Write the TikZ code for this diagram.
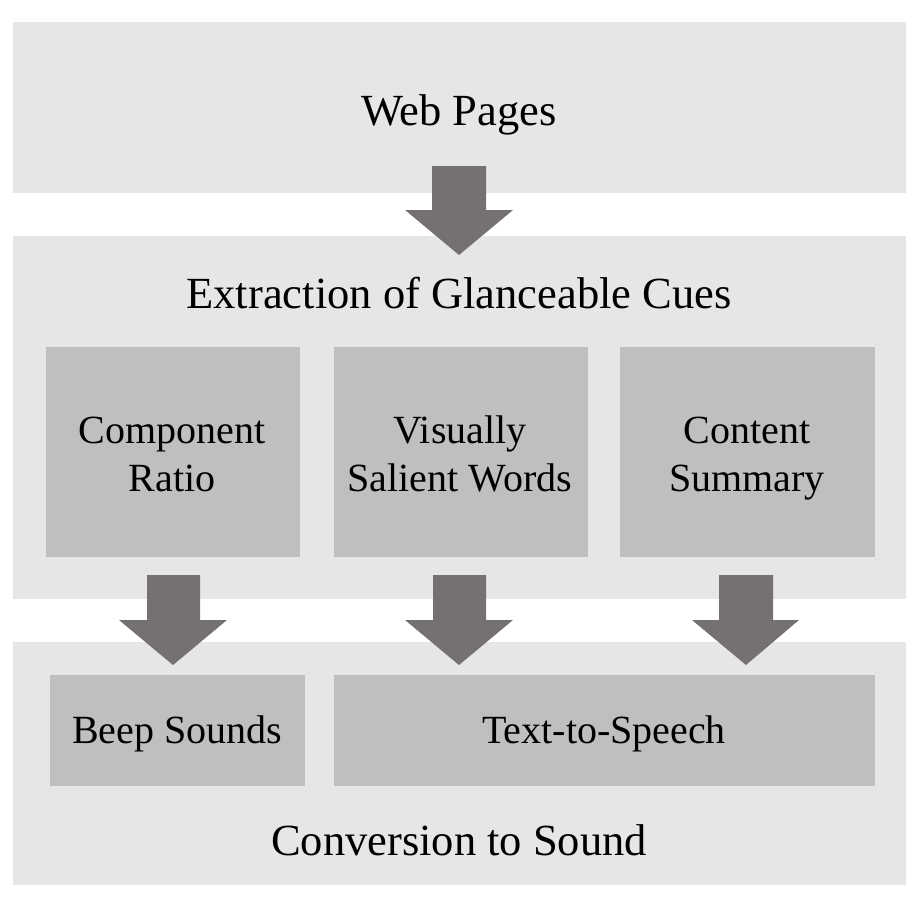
\documentclass[tikz,border=0pt]{standalone}
\usepackage{fontspec}
\setmainfont{Liberation Serif}
\definecolor{outerfill}{HTML}{E7E6E6}
\definecolor{innerfill}{HTML}{BFBFBF}
\definecolor{arrowfill}{HTML}{767171}
\begin{document}
\begin{tikzpicture}[x=1pt,y=-1pt,
  outerbox/.style={fill=outerfill,draw=none},
  innerbox/.style={fill=innerfill,draw=none},
  blockarrow/.style={fill=arrowfill,draw=none},
  bigtext/.style={font=\fontsize{44.5}{50}\selectfont,inner sep=0pt,anchor=base},
  smalltext/.style={font=\fontsize{40}{48}\selectfont,inner sep=0pt,align=center},
  onetext/.style={font=\fontsize{40}{48}\selectfont,inner sep=0pt,anchor=base}]
\useasboundingbox (0,0) rectangle (918,902);
\fill[white] (0,0) rectangle (918,902);
% outer boxes
\fill[outerbox] (13,22) rectangle (906,193);
\fill[outerbox] (13,236) rectangle (906,599);
\fill[outerbox] (13,642) rectangle (906,885);
% inner boxes
\fill[innerbox] (46,347) rectangle (300,557);
\fill[innerbox] (334,347) rectangle (588,557);
\fill[innerbox] (620,347) rectangle (875,557);
\fill[innerbox] (50,675) rectangle (305,786);
\fill[innerbox] (334,675) rectangle (875,786);
% arrows
\fill[blockarrow] (432,166) -- (486,166) -- (486,210) -- (513,210) -- (459,255) -- (405,210) -- (432,210) -- cycle;
\fill[blockarrow] (147,575) -- (200,575) -- (200,620) -- (227,620) -- (173,665) -- (119,620) -- (147,620) -- cycle;
\fill[blockarrow] (433,575) -- (486,575) -- (486,620) -- (513,620) -- (459,665) -- (405,620) -- (433,620) -- cycle;
\fill[blockarrow] (719,575) -- (773,575) -- (773,620) -- (799,620) -- (746,665) -- (692,620) -- (719,620) -- cycle;
% texts
\node[bigtext] (web) at (459,125) {Web Pages};
\node[bigtext] (extr) at (459,308) {Extraction of Glanceable Cues};
\node[smalltext] (comp) at (172,458) {Component\strut\\Ratio\strut};
\node[smalltext] (vis) at (460,458) {Visually\strut\\Salient Words\strut};
\node[smalltext] (cont) at (747,458) {Content\strut\\Summary\strut};
\node[onetext] (beep) at (177,743) {Beep Sounds};
\node[onetext] (tts) at (604,743) {Text-to-Speech};
\node[bigtext] (conv) at (459,855) {Conversion to Sound};
\end{tikzpicture}
\end{document}
